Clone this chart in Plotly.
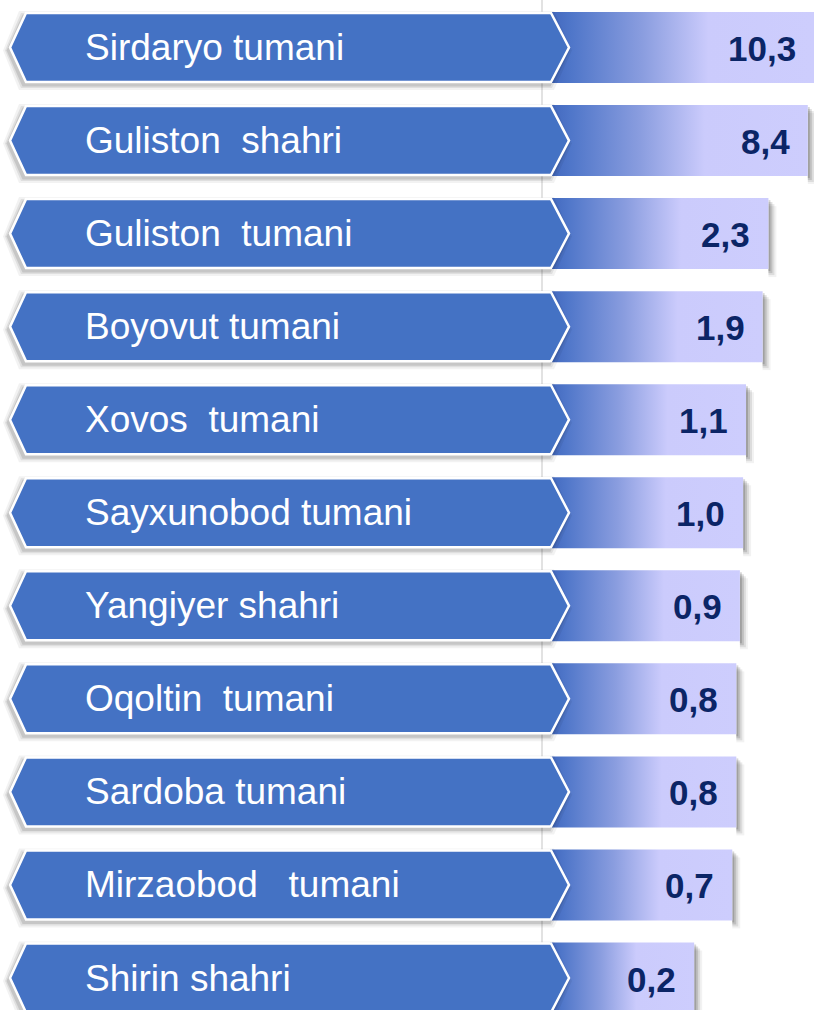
import math
import plotly.graph_objects as go

# ---- data -------------------------------------------------------------
regions = [
    "Sirdaryo tumani",
    "Guliston  shahri",
    "Guliston  tumani",
    "Boyovut tumani",
    "Xovos  tumani",
    "Sayxunobod tumani",
    "Yangiyer shahri",
    "Oqoltin  tumani",
    "Sardoba tumani",
    "Mirzaobod   tumani",
    "Shirin shahri",
]
values = [10.3, 8.4, 2.3, 1.9, 1.1, 1.0, 0.9, 0.8, 0.8, 0.7, 0.2]

# ---- layout constants (pixels) ---------------------------------------
W, H = 814, 1010
ROW0_PX, ROW_PX = 47.5, 93.05          # first row centre, row pitch
BAR_HALF_PX = 35.5
BANNER_HALF_PX = 34.5
BAR_START_PX = 550
PX_PER_DECADE = 70
TIP_L, CORNER_L, CORNER_R, TIP_R = 10, 26, 551, 569
LABEL_X_PX = 83

BANNER_BLUE = "#4472c4"
VALUE_NAVY = "#0b2566"
FONT = "Liberation Sans, Arial, sans-serif"
GRADIENT = [
    [0.0, "#4268be"],
    [0.08, "#4f76c9"],
    [0.35, "#8a9ddf"],
    [0.6, "#cbcbfc"],
    [1.0, "#cdcdfd"],
]

n = len(values)
y_top = -ROW0_PX / ROW_PX
y_bottom = (H - ROW0_PX) / ROW_PX
bar_half = BAR_HALF_PX / ROW_PX

log_hi = math.log10(max(values))
log_lo = log_hi - (W - BAR_START_PX) / PX_PER_DECADE
x_lo = 10 ** log_lo

fig = go.Figure()

# gradient bars, one closed polygon per region
for i, v in enumerate(values):
    fig.add_trace(go.Scatter(
        x=[x_lo, v, v, x_lo, x_lo],
        y=[i - bar_half, i - bar_half, i + bar_half, i + bar_half, i - bar_half],
        mode="lines",
        fill="toself",
        fillgradient=dict(type="horizontal", colorscale=GRADIENT),
        line=dict(width=0),
        hoverinfo="skip",
        showlegend=False,
    ))

shapes = []

# thin divider behind the banners
shapes.append(dict(
    type="line", xref="paper", yref="paper",
    x0=542 / W, x1=542 / W, y0=0, y1=1,
    line=dict(color="#d9d9d9", width=1.5), layer="below",
))


def banner_path(c, dx_px=0.0, dy_px=0.0, grow_px=0.0):
    def px(p):
        return (p + dx_px) / W

    def py(off):
        return c + (off + dy_px) / ROW_PX

    hh = BANNER_HALF_PX + grow_px
    pts = [
        (px(TIP_L - grow_px), py(0)),
        (px(CORNER_L - grow_px), py(-hh)),
        (px(CORNER_R + grow_px), py(-hh)),
        (px(TIP_R + grow_px), py(0)),
        (px(CORNER_R + grow_px), py(hh)),
        (px(CORNER_L - grow_px), py(hh)),
    ]
    return "M " + " L ".join(f"{x:.5f},{y:.5f}" for x, y in pts) + " Z"


for i, v in enumerate(values):
    # soft drop shadow of the bar (right and bottom)
    for off, alpha in [(8, 0.05), (6, 0.09), (4, 0.13), (2, 0.16)]:
        shapes.append(dict(
            type="rect", xref="x", yref="y",
            xsizemode="pixel", xanchor=v, x0=-320, x1=off,
            ysizemode="pixel", yanchor=i,
            y0=-(BAR_HALF_PX + off), y1=BAR_HALF_PX - off,
            fillcolor=f"rgba(0,0,0,{alpha})", line=dict(width=0),
            layer="below",
        ))
    # soft shadow of the banner (also falls onto the start of the bar)
    for grow, alpha in [(5, 0.05), (3, 0.08), (1.5, 0.11)]:
        shapes.append(dict(
            type="path", xref="paper", yref="y",
            path=banner_path(i, dx_px=-2, dy_px=3, grow_px=grow),
            fillcolor=f"rgba(0,0,0,{alpha})", line=dict(width=0),
            layer="above",
        ))
    # the banner itself
    shapes.append(dict(
        type="path", xref="paper", yref="y",
        path=banner_path(i),
        fillcolor=BANNER_BLUE, line=dict(color="white", width=2.5),
        layer="above",
    ))

annotations = []
for i, (name, v) in enumerate(zip(regions, values)):
    annotations.append(dict(
        xref="paper", yref="y", x=LABEL_X_PX / W, y=i,
        xanchor="left", yanchor="middle",
        text=name.replace(" ", "\u00a0"),
        showarrow=False,
        font=dict(family=FONT, size=37, color="white"),
    ))
    annotations.append(dict(
        xref="x", yref="y", x=math.log10(v), y=i,
        xanchor="right", yanchor="middle", xshift=-16, yshift=-1,
        text=f"<b>{v:.1f}</b>".replace(".", ","),
        showarrow=False,
        font=dict(family=FONT, size=35, color=VALUE_NAVY),
    ))

fig.update_layout(
    width=W, height=H,
    margin=dict(l=0, r=0, t=0, b=0),
    paper_bgcolor="white",
    plot_bgcolor="white",
    xaxis=dict(
        type="log", domain=[BAR_START_PX / W, 1], range=[log_lo, log_hi],
        visible=False, fixedrange=True,
    ),
    yaxis=dict(
        range=[y_bottom, y_top], visible=False, fixedrange=True,
    ),
    shapes=shapes,
    annotations=annotations,
    showlegend=False,
)

fig.write_html("out.html")
